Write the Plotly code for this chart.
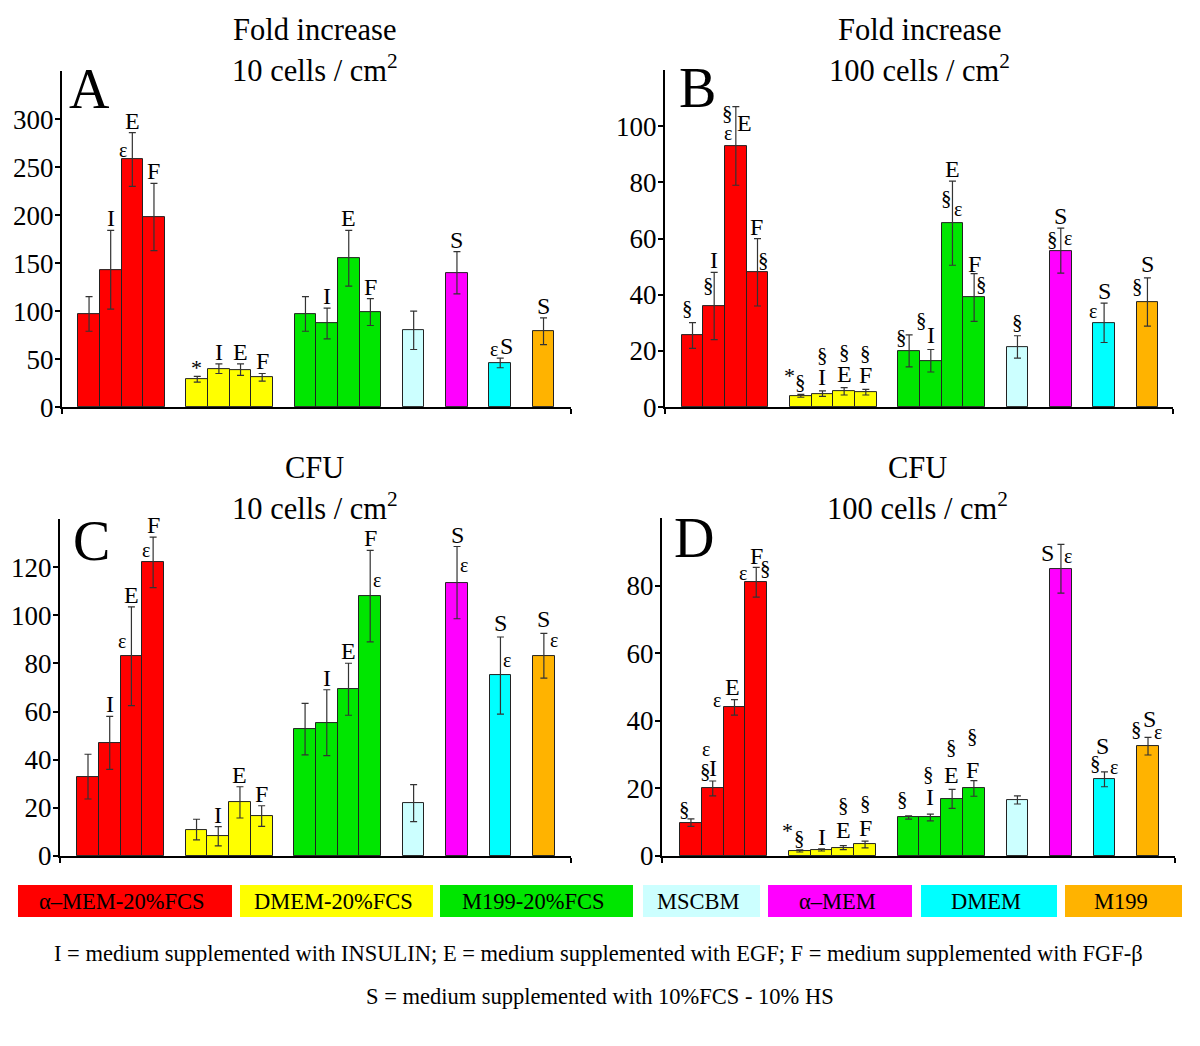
import plotly.graph_objects as go

# ---------------- data ----------------
positions = [1, 2, 3, 4, 6, 7, 8, 9, 11, 12, 13, 14, 16, 18, 20, 22]
media = ["α–MEM-20%FCS", "DMEM-20%FCS", "M199-20%FCS", "MSCBM", "α–MEM", "DMEM", "M199"]
media_colors = ["#FF0000", "#FFFF00", "#00E600", "#CCFFFF", "#FF00FF", "#00FFFF", "#FFB300"]
bar_group = [0, 0, 0, 0, 1, 1, 1, 1, 2, 2, 2, 2, 3, 4, 5, 6]

fold10_vals = [97, 143, 258, 198, 29, 40, 39, 31, 97, 87, 155, 99, 80, 140, 46, 79]
fold10_err = [18, 41, 28, 35, 3, 5, 6, 4, 18, 16, 29, 14, 20, 22, 5, 14]
fold100_vals = [25.5, 36, 93, 48, 4.0, 4.8, 5.6, 5.3, 20, 16.5, 65.5, 39, 21.4, 55.7, 30, 37.4]
fold100_err = [4.6, 12, 14, 12, 0.5, 1, 1.3, 1, 5.7, 4, 15, 8.5, 4, 8, 7, 8.6]
cfu10_vals = [33, 47, 83, 122, 11, 8.2, 22.3, 16.6, 52.7, 55.4, 69.3, 108, 22, 113.6, 75, 83.2]
cfu10_err = [9.3, 11, 20.5, 10.5, 4.3, 4, 6.5, 4.3, 10.7, 13.7, 10.8, 19, 7.7, 15, 16, 9.3]
cfu100_vals = [9.9, 20, 44, 81, 1.5, 1.8, 2.5, 3.4, 11.4, 11.4, 16.9, 20, 16.6, 85, 22.7, 32.5]
cfu100_err = [1.1, 2.2, 2.3, 4.4, 0.3, 0.3, 0.6, 1.0, 0.5, 1.0, 2.8, 2.3, 1.2, 7.2, 2.2, 2.6]

# significance labels: (bar index, text, dx px, dy px from error-bar top, positive = down)
labels_A = [(1, "I", 0, -12), (2, "E", 0, -12), (2, "ε", -9, 17), (3, "F", 0, -12),
            (4, "*", -1, -9), (5, "I", 0, -12), (6, "E", 0, -12), (7, "F", 0, -12),
            (9, "I", 0, -12), (10, "E", 0, -12), (11, "F", 0, -12),
            (13, "S", 0, -12), (14, "S", 6, -12), (14, "ε", -6, -9), (15, "S", 0, -12)]
labels_B = [(0, "§", -5, -15), (1, "I", 0, -12), (1, "§", -6, 13),
            (2, "E", 9, 16), (2, "§", -8, 6), (2, "ε", -8, 26),
            (3, "F", -1, -12), (3, "§", 6, 21),
            (4, "*", -11, -19), (4, "§", 0, -12),
            (5, "§", 0, -36), (5, "I", 0, -14), (6, "§", 0, -36), (6, "E", 0, -14),
            (7, "§", 0, -36), (7, "F", 0, -14),
            (8, "§", -8, 2), (9, "§", -9, -30), (9, "I", 0, -15),
            (10, "E", 0, -12), (10, "§", -6, 17), (10, "ε", 6, 28),
            (11, "F", 0, -10), (11, "§", 7, 10), (12, "§", 0, -14),
            (13, "S", 0, -12), (13, "§", -8, 11), (13, "ε", 7, 10),
            (14, "S", 0, -12), (14, "ε", -11, 8),
            (15, "S", 0, -14), (15, "§", -10, 8)]
labels_C = [(1, "I", 0, -12), (2, "E", 0, -12), (2, "ε", -9, 34),
            (3, "F", 0, -12), (3, "ε", -7, 13),
            (5, "I", 0, -12), (6, "E", 0, -12), (7, "F", 0, -12),
            (9, "I", 0, -12), (10, "E", 0, -12), (11, "F", 0, -12), (11, "ε", 7, 30),
            (13, "S", 0, -12), (13, "ε", 7, 18),
            (14, "S", 0, -14), (14, "ε", 7, 23),
            (15, "S", 0, -14), (15, "ε", 10, 7)]
labels_D = [(0, "§", -6, -10), (1, "I", 0, -13), (1, "§", -7, -10), (1, "ε", -7, -32),
            (2, "E", -2, -13), (2, "ε", -17, 0),
            (3, "F", 0, -11), (3, "ε", -13, 6), (3, "§", 9, 1),
            (4, "*", -12, -19), (4, "§", 0, -12), (5, "I", 0, -12),
            (6, "§", 0, -41), (6, "E", 0, -16), (7, "§", 0, -38), (7, "F", 0, -13),
            (8, "§", -6, -17), (9, "§", -2, -40), (9, "I", 0, -17),
            (10, "§", -1, -42), (10, "E", -1, -14), (11, "§", -1, -45), (11, "F", -1, -11),
            (13, "S", -13, 9), (13, "ε", 7, 12),
            (14, "S", -2, -26), (14, "§", -9, -9), (14, "ε", 10, -5),
            (15, "S", 1, -18), (15, "§", -12, -8), (15, "ε", 10, -5)]

panels = [
    dict(vals=fold10_vals, err=fold10_err, labels=labels_A, letter="A",
         t1="Fold increase", t2="10 cells / cm<sup>2</sup>", ymax=350, dtick=50, ytop=300,
         dx=[62, 571], dy=[71, 407], xr=[-0.25, 23.27]),
    dict(vals=fold100_vals, err=fold100_err, labels=labels_B, letter="B",
         t1="Fold increase", t2="100 cells / cm<sup>2</sup>", ymax=120, dtick=20, ytop=100,
         dx=[665, 1173], dy=[70, 407], xr=[-0.27, 23.18]),
    dict(vals=cfu10_vals, err=cfu10_err, labels=labels_C, letter="C",
         t1="CFU", t2="10 cells / cm<sup>2</sup>", ymax=140, dtick=20, ytop=120,
         dx=[60, 571], dy=[519, 856], xr=[-0.29, 23.25]),
    dict(vals=cfu100_vals, err=cfu100_err, labels=labels_D, letter="D",
         t1="CFU", t2="100 cells / cm<sup>2</sup>", ymax=100, dtick=20, ytop=80,
         dx=[662, 1175], dy=[518, 856], xr=[-0.33, 23.24]),
]

# page has an 8px body margin; the photo is slightly compressed vertically
OX, OY = 8, 8
W, H = 1184, 1030
YS = 1.0147


def px(x):
    return (x - OX) / W


def py(y):
    return 1 - (y * YS - OY) / H


FONT = "Liberation Serif, Times New Roman, serif"
fig = go.Figure()
annotations = []
shapes = []

bar_colors = [media_colors[g] for g in bar_group]

for k, p in enumerate(panels):
    ax = "" if k == 0 else str(k + 1)
    fig.add_trace(go.Bar(
        x=positions, y=p["vals"], width=1.0,
        marker=dict(color=bar_colors, line=dict(color="#222222", width=1)),
        error_y=dict(type="data", array=p["err"], visible=True, color="#333333",
                     thickness=1.2, width=3.5),
        xaxis="x" + ax, yaxis="y" + ax, showlegend=False, hoverinfo="skip"))
    fig.layout["xaxis" + ax] = dict(
        domain=[px(p["dx"][0]), px(p["dx"][1])], range=p["xr"], anchor="y" + ax,
        showline=True, linecolor="black", linewidth=2, ticks="outside",
        tickvals=[p["xr"][0], p["xr"][1]], ticklen=5, tickwidth=1.5, tickcolor="black",
        showticklabels=False, showgrid=False, zeroline=False, fixedrange=True)
    fig.layout["yaxis" + ax] = dict(
        domain=[py(p["dy"][1]), py(p["dy"][0])], range=[0, p["ymax"]], anchor="x" + ax,
        showline=True, linecolor="black", linewidth=2, ticks="outside", ticklen=5,
        tickwidth=1.5, tickcolor="black", tickvals=list(range(0, p["ytop"] + 1, p["dtick"])),
        tickfont=dict(family=FONT, size=27, color="black"), ticklabelstandoff=-4,
        showgrid=False, zeroline=False, fixedrange=True)
    # titles
    tcx = {0: 315, 1: 919, 2: 315, 3: 918}[k]
    t1y = {0: 30, 1: 30, 2: 468, 3: 468}[k]
    annotations.append(dict(text=p["t1"], x=px(tcx), y=py(t1y), xref="paper", yref="paper",
                            showarrow=False, xanchor="center", yanchor="middle",
                            font=dict(family=FONT, size=30.5, color="black")))
    annotations.append(dict(text=p["t2"], x=px(tcx), y=py(t1y + 38), xref="paper", yref="paper",
                            showarrow=False, xanchor="center", yanchor="middle",
                            font=dict(family=FONT, size=30.5, color="black")))
    # panel letter
    lx, ly = {0: (89, 89), 1: (697, 88), 2: (91, 541), 3: (694, 538)}[k]
    annotations.append(dict(text=p["letter"], x=px(lx), y=py(ly), xref="paper", yref="paper",
                            showarrow=False, xanchor="center", yanchor="middle",
                            font=dict(family=FONT, size=56, color="black")))
    # significance labels
    for (i, txt, ddx, ddy) in p["labels"]:
        size = 24
        if txt == "§":
            size = 21
        elif txt == "ε":
            size = 20
        elif txt == "*":
            size = 22
        annotations.append(dict(text=txt, x=positions[i], y=p["vals"][i] + p["err"][i],
                                xref="x" + ax, yref="y" + ax, showarrow=False,
                                xanchor="center", yanchor="middle", xshift=ddx, yshift=-ddy,
                                font=dict(family=FONT, size=size, color="black")))

# legend boxes
box_x = [(18, 232), (240, 433), (440, 633), (643, 760), (768, 912), (921, 1057), (1065, 1182)]
for (bx0, bx1), name, col in zip(box_x, media, media_colors):
    shapes.append(dict(type="rect", xref="paper", yref="paper", x0=px(bx0), x1=px(bx1),
                       y0=py(917), y1=py(885), fillcolor=col, line=dict(width=0)))
    annotations.append(dict(text=name, x=px((bx0 + bx1) / 2 - 3), y=py(901),
                            xref="paper", yref="paper", showarrow=False,
                            xanchor="center", yanchor="middle",
                            font=dict(family=FONT, size=22.5, color="black")))

annotations.append(dict(text="I = medium supplemented with INSULIN; E = medium supplemented with EGF; F = medium supplemented with FGF-β",
                        x=px(598), y=py(953), xref="paper", yref="paper", showarrow=False,
                        xanchor="center", yanchor="middle", font=dict(family=FONT, size=22.5, color="black")))
annotations.append(dict(text="S = medium supplemented with 10%FCS - 10% HS",
                        x=px(600), y=py(996), xref="paper", yref="paper", showarrow=False,
                        xanchor="center", yanchor="middle", font=dict(family=FONT, size=22.5, color="black")))

fig.update_layout(width=W, height=H, margin=dict(l=0, r=0, t=0, b=0),
                  paper_bgcolor="white", plot_bgcolor="white", bargap=0,
                  annotations=annotations, shapes=shapes, showlegend=False)

fig.write_html("out.html")
